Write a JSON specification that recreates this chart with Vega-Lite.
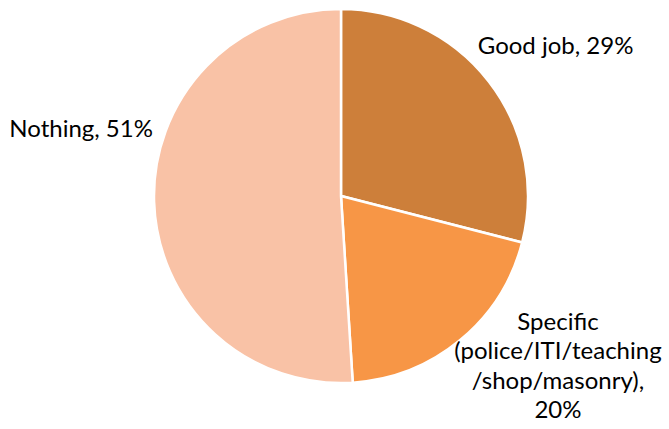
{
  "$schema": "https://vega.github.io/schema/vega-lite/v6.json",
  "width": 640,
  "height": 392,
  "autosize": {"type": "none"},
  "padding": {"left": 21, "top": 0, "right": 8, "bottom": 37},
  "background": "white",
  "view": {"stroke": null},
  "data": {
    "values": [
      {"cat": "Good job", "pct": 29, "i": 1, "label": "Good job, 29%"},
      {"cat": "Specific", "pct": 20, "i": 2, "label": "Specific\n(police/ITI/teaching\n/shop/masonry),\n20%"},
      {"cat": "Nothing", "pct": 51, "i": 3, "label": "Nothing, 51%"}
    ]
  },
  "encoding": {
    "theta": {"field": "pct", "type": "quantitative", "stack": true},
    "order": {"field": "i", "type": "quantitative"}
  },
  "layer": [
    {
      "mark": {"type": "arc", "outerRadius": 187, "stroke": "white", "strokeWidth": 2.5},
      "encoding": {
        "color": {
          "field": "cat",
          "type": "nominal",
          "scale": {"domain": ["Good job", "Specific", "Nothing"], "range": ["#CD7F3A", "#F79646", "#F9C2A6"]},
          "legend": null
        }
      }
    },
    {
      "mark": {"type": "text", "radius": 245, "dx": 21, "dy": 1, "font": "Lato", "fontSize": 24, "color": "black", "align": "center", "baseline": "middle"},
      "encoding": {"text": {"condition": {"test": "datum.cat === 'Good job'", "field": "label"}, "value": ""}}
    },
    {
      "mark": {"type": "text", "radius": 240, "dx": 64, "dy": -58, "font": "Lato", "fontSize": 24, "lineHeight": 29.5, "lineBreak": "\n", "color": "black", "align": "center", "baseline": "middle"},
      "encoding": {"text": {"condition": {"test": "datum.cat === 'Specific'", "field": "label"}, "value": ""}}
    },
    {
      "mark": {"type": "text", "radius": 260, "dx": 0, "dy": -74, "font": "Lato", "fontSize": 24, "color": "black", "align": "center", "baseline": "middle"},
      "encoding": {"text": {"condition": {"test": "datum.cat === 'Nothing'", "field": "label"}, "value": ""}}
    }
  ]
}
